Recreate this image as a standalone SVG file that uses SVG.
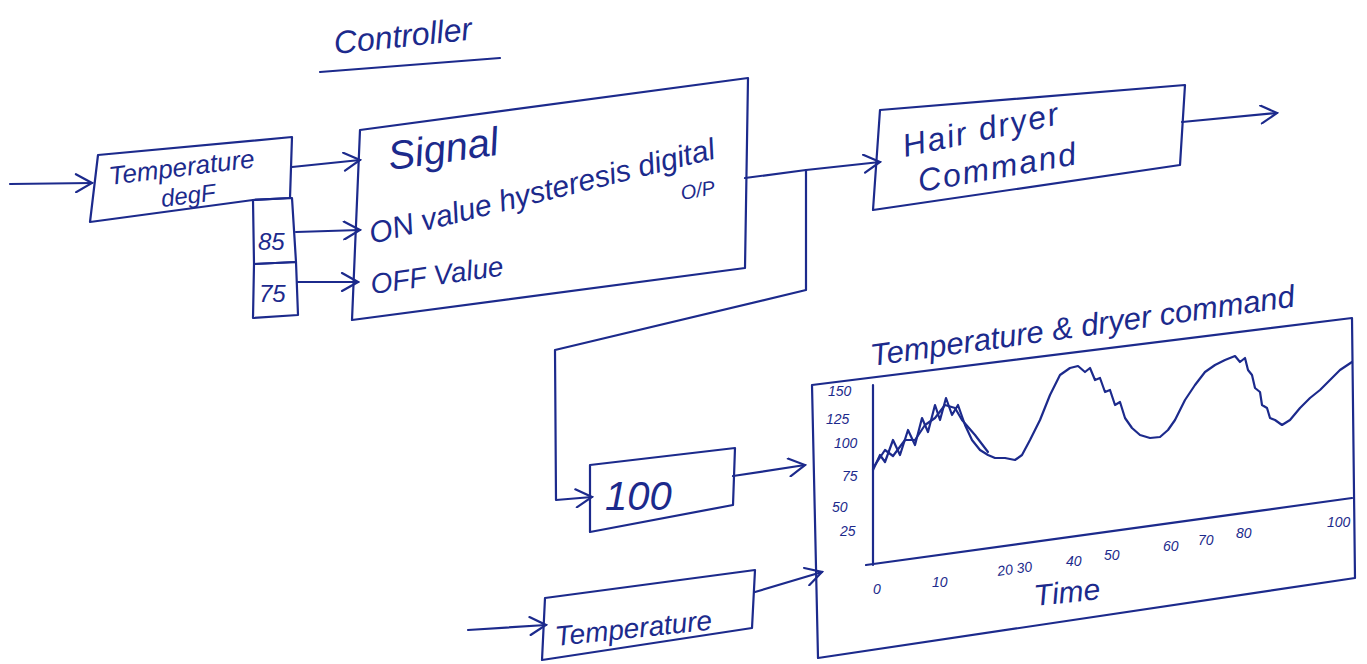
<svg xmlns="http://www.w3.org/2000/svg" width="1367" height="664" viewBox="0 0 1367 664">
<defs>
<style>
.ln{fill:none;stroke:#1c2a8c;stroke-width:2.2;stroke-linecap:round;stroke-linejoin:round}
.tx{font-family:"Liberation Sans","DejaVu Sans",sans-serif;font-style:italic;fill:#1c2a8c}
.sm{font-size:14px}
</style>
<marker id="ah" viewBox="0 0 20 20" refX="18" refY="10" markerWidth="20" markerHeight="20" markerUnits="userSpaceOnUse" orient="auto">
<path d="M2,1 L18,10 L2,19" fill="none" stroke="#1c2a8c" stroke-width="2.2" stroke-linecap="round"/>
</marker>
</defs>
<rect width="1367" height="664" fill="#ffffff"/>

<g id="title">
<text class="tx" x="335" y="54" font-size="32" transform="rotate(-6 335 54)">Controller</text>
<path class="ln" d="M320,72 L500,58"/>
</g>

<g id="temp-degF">
<path class="ln" d="M98,155 L292,137 L290,198 L253,200 M98,155 L90,222 L253,200"/>
<text class="tx" x="110" y="185" font-size="26" transform="rotate(-7 110 185)">Temperature</text>
<text class="tx" x="162" y="207" font-size="24" transform="rotate(-7 162 207)">degF</text>
</g>

<g id="const-85">
<path class="ln" d="M253,200 L292,198 L296,262 L254,264 Z"/>
<text class="tx" x="258" y="250" font-size="24">85</text>
</g>

<g id="const-75">
<path class="ln" d="M254,264 L296,262 L298,315 L253,318 Z"/>
<text class="tx" x="259" y="302" font-size="24">75</text>
</g>

<g id="hysteresis">
<path class="ln" d="M360,130 L748,78 L745,268 L352,320 Z"/>
<text class="tx" x="390" y="170" font-size="40" transform="rotate(-8 390 170)">Signal</text>
<text class="tx" x="372" y="244" font-size="30" transform="rotate(-14 372 244)">ON value hysteresis digital</text>
<text class="tx" x="682" y="200" font-size="20" transform="rotate(-10 682 200)">O/P</text>
<text class="tx" x="372" y="294" font-size="28" transform="rotate(-8 372 294)">OFF Value</text>
</g>

<g id="hair-dryer">
<path class="ln" d="M880,110 L1185,85 L1180,165 L873,210 Z"/>
<text class="tx" x="905" y="157" font-size="32" letter-spacing="2" transform="rotate(-12 905 157)">Hair dryer</text>
<text class="tx" x="920" y="192" font-size="32" letter-spacing="2" transform="rotate(-10 920 192)">Command</text>
</g>

<g id="const-100">
<path class="ln" d="M590,465 L735,448 L733,505 L590,532 Z"/>
<text class="tx" x="605" y="510" font-size="40">100</text>
</g>

<g id="temperature-src">
<path class="ln" d="M545,598 L755,570 L752,628 L542,660 Z"/>
<text class="tx" x="556" y="646" font-size="28" transform="rotate(-6 556 646)">Temperature</text>
</g>

<g id="scope">
<path class="ln" d="M812,385 L1352,318 L1355,578 L818,658 Z"/>
<text class="tx" x="872" y="366" font-size="31" transform="rotate(-8 872 366)">Temperature &amp; dryer command</text>
<path class="ln" d="M873,385 L873,565 M866,565 L1352,498"/>
<text class="tx sm" x="828" y="396">150</text>
<text class="tx sm" x="826" y="424">125</text>
<text class="tx sm" x="834" y="448">100</text>
<text class="tx sm" x="842" y="481">75</text>
<text class="tx sm" x="832" y="512">50</text>
<text class="tx sm" x="840" y="536">25</text>
<text class="tx sm" x="873" y="594">0</text>
<text class="tx sm" x="932" y="587">10</text>
<text class="tx sm" x="998" y="576" transform="rotate(-8 998 576)">20 30</text>
<text class="tx sm" x="1066" y="566">40</text>
<text class="tx sm" x="1104" y="560">50</text>
<text class="tx sm" x="1163" y="551">60</text>
<text class="tx sm" x="1198" y="545">70</text>
<text class="tx sm" x="1236" y="538">80</text>
<text class="tx sm" x="1327" y="527">100</text>
<text class="tx" x="1035" y="606" font-size="30" transform="rotate(-6 1035 606)">Time</text>
<path class="ln" stroke-width="1.6" d="M873,470 L880,455 885,462 893,440 900,455 908,430 915,445 922,418 928,432 935,405 940,420 946,398 952,415 958,405 965,425 972,440 980,450 988,455 995,458 1005,458 1015,460 1022,455 1030,440 1040,420 1050,395 1060,375 1070,368 1078,366 1085,372 1090,368 1095,380 1100,378 1105,392 1110,390 1115,405 1120,402 1125,418 1132,428 1140,435 1150,438 1160,437 1168,430 1175,420 1185,400 1195,385 1205,372 1215,365 1225,360 1235,356 1240,362 1245,358 1248,370 1252,375 1255,388 1260,392 1262,405 1267,408 1270,418 1275,420 1282,425 1290,420 1300,408 1310,398 1320,390 1330,380 1340,370 1352,362"/>
<path class="ln" stroke-width="1.6" d="M875,465 L885,450 893,456 905,440 915,440 925,425 935,418 945,405 955,408 962,420 975,435 988,452"/>
</g>

<g id="connectors">
<path class="ln" marker-end="url(#ah)" d="M10,184 L92,183"/>
<path class="ln" marker-end="url(#ah)" d="M292,167 L360,160"/>
<path class="ln" marker-end="url(#ah)" d="M296,232 L360,230"/>
<path class="ln" marker-end="url(#ah)" d="M298,282 L358,282"/>
<path class="ln" marker-end="url(#ah)" d="M745,178 L806,170 L880,162"/>
<path class="ln" marker-end="url(#ah)" d="M806,170 L806,290 L555,350 L556,500 L592,497"/>
<path class="ln" marker-end="url(#ah)" d="M1182,122 L1277,113"/>
<path class="ln" marker-end="url(#ah)" d="M733,476 L805,465"/>
<path class="ln" marker-end="url(#ah)" d="M468,630 L546,625"/>
<path class="ln" marker-end="url(#ah)" d="M755,592 L822,572"/>
</g>
</svg>
